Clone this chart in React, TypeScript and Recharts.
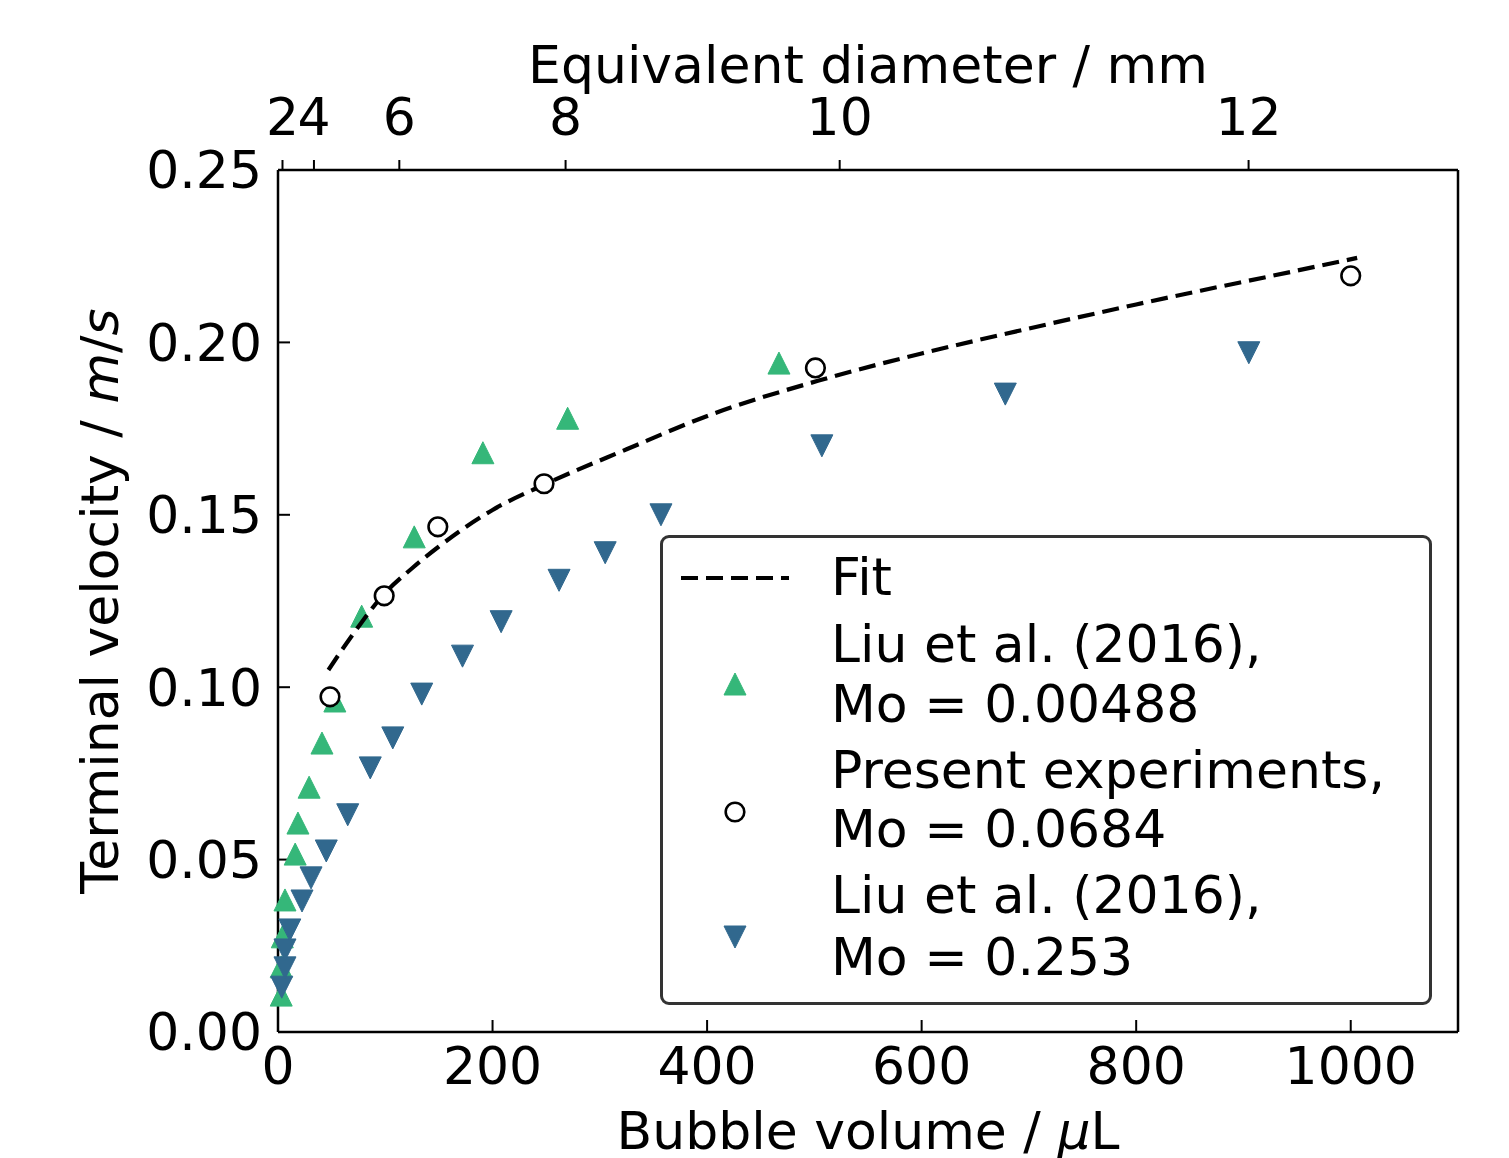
import React from "react";
import { ScatterChart, Scatter, XAxis, YAxis } from "recharts";

const GREEN = "#35b779";
const BLUE = "#31688e";
const FONT = "'DejaVu Sans', 'Liberation Sans', sans-serif";

// Liu et al. (2016), Mo = 0.00488
const LOW_MO_VOLUME = [3, 3, 4, 6.5, 16, 18.6, 29, 41, 53, 78, 127, 191, 270, 467];
const LOW_MO_VELOCITY = [0.0107, 0.0189, 0.0276, 0.0383, 0.0516, 0.0606, 0.071, 0.0838, 0.096, 0.1206, 0.1436, 0.168, 0.178, 0.194];

// Liu et al. (2016), Mo = 0.253
const HIGH_MO_VOLUME = [3.5, 6.5, 6.5, 11, 22.4, 30.8, 45, 65, 86, 107, 134, 172, 208, 262, 305, 357, 507, 678, 905];
const HIGH_MO_VELOCITY = [0.013, 0.0186, 0.0238, 0.0296, 0.038, 0.0447, 0.0525, 0.063, 0.0766, 0.0853, 0.098, 0.109, 0.119, 0.131, 0.139, 0.15, 0.17, 0.185, 0.197];

// present experiments, Mo = 0.0684
const PRESENT_VOLUME = [48.5, 99, 149, 248, 501, 1000];
const PRESENT_VELOCITY = [0.0972, 0.1265, 0.1465, 0.159, 0.1926, 0.2193];

// fit curve
const FIT_VOLUME = [47, 60, 76, 98, 125, 150, 200, 250, 325, 403, 505, 600, 694, 800, 860, 922, 1006];
const FIT_VELOCITY = [0.105, 0.111, 0.118, 0.1267, 0.1345, 0.1408, 0.1514, 0.159, 0.169, 0.179, 0.189, 0.1968, 0.2036, 0.211, 0.215, 0.219, 0.2245];

const VOLUME_TICKS = [0, 200, 400, 600, 800, 1000];
const VELOCITY_TICKS = [0, 0.05, 0.1, 0.15, 0.2, 0.25];
const DIAMETER_TICKS = [2, 4, 6, 8, 10, 12];

const zip = (xs: number[], ys: number[]) => xs.map((x, i) => ({ volume: x, velocity: ys[i] }));

// sphere: V = pi/6 d^3  (mm^3 == µL)
const diameterToVolume = (d: number) => (Math.PI / 6) * d ** 3;
const volumeToDiameter = (v: number) => Math.round(Math.cbrt((6 * v) / Math.PI));
const TOP_TICKS = DIAMETER_TICKS.map(diameterToVolume);

const S = 11;
const FIT_DASH = "17 8";

const UpTriangle = (p: any) => (
  <path d={`M${p.cx},${p.cy - S}L${p.cx + S},${p.cy + S}L${p.cx - S},${p.cy + S}Z`} fill={GREEN} stroke={GREEN} strokeWidth={1} strokeLinejoin="round" />
);
const DownTriangle = (p: any) => (
  <path d={`M${p.cx},${p.cy + S}L${p.cx + S},${p.cy - S}L${p.cx - S},${p.cy - S}Z`} fill={BLUE} stroke={BLUE} strokeWidth={1} strokeLinejoin="round" />
);
const OpenCircle = (p: any) => <circle cx={p.cx} cy={p.cy} r={9.3} fill="#fff" stroke="#000" strokeWidth={2.6} />;
const NoDot = () => <g />;

const tickStyle = { fontSize: 52, fill: "#000", fontFamily: FONT };
const axisLineStyle = { stroke: "#000", strokeWidth: 2.5 };
const tickLineStyle = { stroke: "#000", strokeWidth: 2 };

const BottomTitle = () => (
  <text x={868} y={1149} textAnchor="middle" fontSize={52} fontFamily={FONT} fill="#000">
    Bubble volume / <tspan fontStyle="italic">µ</tspan>L
  </text>
);
const TopTitle = () => (
  <text x={868} y={83} textAnchor="middle" fontSize={52} fontFamily={FONT} fill="#000">
    Equivalent diameter / mm
  </text>
);
const LeftTitle = () => (
  <text x={118} y={601} transform="rotate(-90 118 601)" textAnchor="middle" fontSize={52} fontFamily={FONT} fill="#000">
    Terminal velocity / <tspan fontStyle="italic">m</tspan>/<tspan fontStyle="italic">s</tspan>
  </text>
);

function LegendBox() {
  const tx = 171;
  return (
    <div
      style={{
        position: "absolute",
        left: 660,
        top: 535,
        width: 772,
        height: 470,
        boxSizing: "border-box",
        border: "3px solid #333",
        borderRadius: 9,
        background: "#fff",
      }}
    >
      <svg width={772} height={470} style={{ position: "absolute", left: -3, top: -3, overflow: "visible" }}>
        <line x1={21} y1={43} x2={129} y2={43} stroke="#000" strokeWidth={4.2} strokeDasharray={FIT_DASH} />
        <UpTriangle cx={75} cy={149} />
        <OpenCircle cx={75} cy={277} />
        <DownTriangle cx={75} cy={402} />
        <g fontSize={52} fontFamily={FONT} fill="#000">
          <text x={tx} y={60}>Fit</text>
          <text x={tx} y={127}>Liu et al. (2016),</text>
          <text x={tx} y={187}>Mo = 0.00488</text>
          <text x={tx} y={253}>Present experiments,</text>
          <text x={tx} y={312}>Mo = 0.0684</text>
          <text x={tx} y={378}>Liu et al. (2016),</text>
          <text x={tx} y={440}>Mo = 0.253</text>
        </g>
      </svg>
    </div>
  );
}

export default function App() {
  return (
    <div style={{ position: "absolute", left: 0, top: 0, width: 1509, height: 1158, background: "#fff" }}>
      <ScatterChart width={1509} height={1158} margin={{ top: 0, right: 0, bottom: 0, left: 0 }}>
        <XAxis
          xAxisId="bottom"
          dataKey="volume"
          type="number"
          domain={[0, 1100]}
          ticks={VOLUME_TICKS}
          interval={0}
          height={126}
          stroke="#000"
          axisLine={axisLineStyle}
          tickLine={tickLineStyle}
          tickSize={-12}
          tickMargin={27}
          tick={tickStyle}
          label={<BottomTitle />}
        />
        <XAxis
          xAxisId="top"
          orientation="top"
          dataKey="volume"
          type="number"
          domain={[0, 1100]}
          ticks={TOP_TICKS}
          interval={0}
          height={170}
          stroke="#000"
          axisLine={axisLineStyle}
          tickLine={tickLineStyle}
          tickSize={10}
          tickMargin={25}
          tick={tickStyle}
          tickFormatter={(v: number) => String(volumeToDiameter(v))}
          label={<TopTitle />}
        />
        <YAxis
          yAxisId="left"
          dataKey="velocity"
          type="number"
          domain={[0, 0.25]}
          ticks={VELOCITY_TICKS}
          interval={0}
          width={278}
          stroke="#000"
          axisLine={axisLineStyle}
          tickLine={tickLineStyle}
          tickSize={-12}
          tickMargin={28}
          tick={tickStyle}
          tickFormatter={(v: number) => v.toFixed(2)}
          label={<LeftTitle />}
        />
        <YAxis
          yAxisId="right"
          orientation="right"
          type="number"
          domain={[0, 0.25]}
          width={51}
          stroke="#000"
          axisLine={axisLineStyle}
          tickLine={false}
          tick={false}
        />
        <Scatter
          xAxisId="bottom"
          yAxisId="left"
          data={zip(LOW_MO_VOLUME, LOW_MO_VELOCITY)}
          shape={UpTriangle}
          isAnimationActive={false}
        />
        <Scatter
          xAxisId="bottom"
          yAxisId="left"
          data={zip(HIGH_MO_VOLUME, HIGH_MO_VELOCITY)}
          shape={DownTriangle}
          isAnimationActive={false}
        />
        <Scatter
          xAxisId="top"
          yAxisId="left"
          data={zip(FIT_VOLUME, FIT_VELOCITY)}
          shape={NoDot}
          line={{ stroke: "#000", strokeWidth: 4.2, strokeDasharray: FIT_DASH }}
          lineType="joint"
          lineJointType="monotoneX"
          isAnimationActive={false}
        />
        <Scatter
          xAxisId="bottom"
          yAxisId="left"
          data={zip(PRESENT_VOLUME, PRESENT_VELOCITY)}
          shape={OpenCircle}
          isAnimationActive={false}
        />
      </ScatterChart>
      <LegendBox />
    </div>
  );
}
